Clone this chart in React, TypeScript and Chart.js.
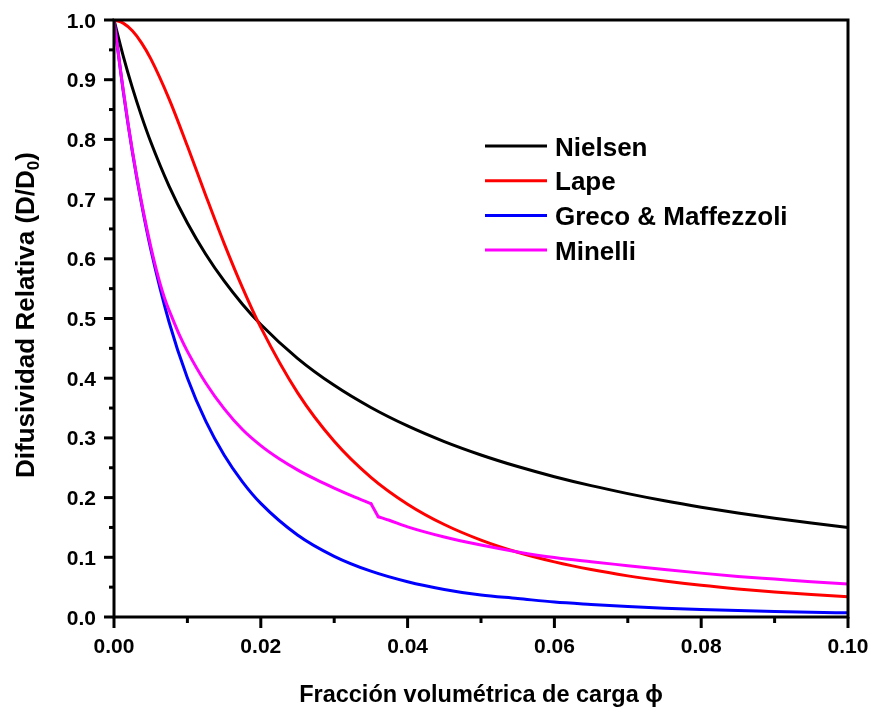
import React, { useEffect, useRef } from "react";
import { Chart, registerables } from "chart.js";

Chart.register(...registerables);

const phi = [0, 0.00125, 0.0025, 0.00375, 0.005, 0.0075, 0.01, 0.0125, 0.015, 0.0175, 0.02, 0.025, 0.03, 0.035, 0.04, 0.045, 0.05, 0.055, 0.06, 0.065, 0.07, 0.075, 0.08, 0.085, 0.09, 0.095, 0.1];

const nielsen = [1, 0.94, 0.8867, 0.839, 0.796, 0.7218, 0.66, 0.6077, 0.5629, 0.524, 0.49, 0.4333, 0.388, 0.3509, 0.32, 0.2938, 0.2714, 0.252, 0.235, 0.22, 0.2067, 0.1947, 0.184, 0.1743, 0.1655, 0.1574, 0.15];
const lape = [1, 0.9948, 0.9819, 0.9618, 0.9354, 0.868, 0.7888, 0.7062, 0.6259, 0.5517, 0.4851, 0.3759, 0.2944, 0.234, 0.189, 0.1549, 0.1288, 0.1084, 0.0923, 0.0794, 0.0689, 0.0603, 0.0531, 0.0471, 0.042, 0.0377, 0.034];
const greco = [1, 0.8812, 0.7795, 0.6921, 0.6166, 0.4941, 0.4005, 0.3281, 0.2714, 0.2264, 0.1903, 0.1374, 0.1017, 0.0768, 0.0591, 0.0462, 0.0367, 0.031, 0.025, 0.021, 0.0175, 0.0148, 0.0125, 0.0107, 0.0092, 0.008, 0.007];

const phiMinelli = [0, 0.001, 0.002, 0.003, 0.004, 0.005, 0.006, 0.007, 0.008, 0.009, 0.01, 0.0125, 0.015, 0.0175, 0.02, 0.0225, 0.025, 0.0275, 0.03, 0.0325, 0.035, 0.036, 0.0375, 0.04, 0.045, 0.05, 0.055, 0.06, 0.065, 0.07, 0.075, 0.08, 0.085, 0.09, 0.095, 0.1];
const minelli = [1, 0.905, 0.82, 0.745, 0.679, 0.621, 0.571, 0.53, 0.499, 0.47, 0.445, 0.392, 0.349, 0.314, 0.287, 0.265, 0.2465, 0.2305, 0.216, 0.2025, 0.19, 0.168, 0.162, 0.151, 0.134, 0.1205, 0.109, 0.0995, 0.0925, 0.086, 0.0795, 0.0735, 0.068, 0.0635, 0.059, 0.0553];
// the Minelli curve has a step between these two phi values
const minelliStepStart = 0.035;
const minelliStepEnd = 0.036;

const seriesNames = ["Nielsen", "Lape", "Greco & Maffezzoli", "Minelli"];
const seriesColors = ["#000000", "#ff0000", "#0000ff", "#ff00ff"];
const seriesOrder = [4, 2, 3, 1];

const xMajorTicks = [0, 0.02, 0.04, 0.06, 0.08, 0.1];
const xMinorTicks = [0.01, 0.03, 0.05, 0.07, 0.09];
const xTickLabels = ["0.00", "0.02", "0.04", "0.06", "0.08", "0.10"];
const yMajorTicks = [0, 0.1, 0.2, 0.3, 0.4, 0.5, 0.6, 0.7, 0.8, 0.9, 1.0];
const yMinorTicks = [0.05, 0.15, 0.25, 0.35, 0.45, 0.55, 0.65, 0.75, 0.85, 0.95];
const yTickLabels = ["0.0", "0.1", "0.2", "0.3", "0.4", "0.5", "0.6", "0.7", "0.8", "0.9", "1.0"];

const xTitle = "Fracción volumétrica de carga ϕ";
const yTitleMain = "Difusividad Relativa (D/D";
const yTitleSub = "0";
const yTitleEnd = ")";

const FONT = '"Liberation Sans", Arial, Helvetica, sans-serif';

const axesPlugin = {
  id: "customAxes",
  afterDatasetsDraw(chart: any) {
    const ctx = chart.ctx;
    const area = chart.chartArea;
    const xs = chart.scales.x;
    const ys = chart.scales.y;
    ctx.save();
    ctx.strokeStyle = "#000";
    ctx.fillStyle = "#000";
    ctx.lineWidth = 3;
    ctx.lineCap = "butt";
    ctx.strokeRect(area.left, area.top, area.right - area.left, area.bottom - area.top);
    xMajorTicks.forEach((v) => {
      const px = xs.getPixelForValue(v);
      ctx.beginPath();
      ctx.moveTo(px, area.bottom);
      ctx.lineTo(px, area.bottom + 11);
      ctx.stroke();
    });
    xMinorTicks.forEach((v) => {
      const px = xs.getPixelForValue(v);
      ctx.beginPath();
      ctx.moveTo(px, area.bottom);
      ctx.lineTo(px, area.bottom + 6);
      ctx.stroke();
    });
    yMajorTicks.forEach((v) => {
      const py = ys.getPixelForValue(v);
      ctx.beginPath();
      ctx.moveTo(area.left, py);
      ctx.lineTo(area.left - 10, py);
      ctx.stroke();
    });
    yMinorTicks.forEach((v) => {
      const py = ys.getPixelForValue(v);
      ctx.beginPath();
      ctx.moveTo(area.left, py);
      ctx.lineTo(area.left - 5, py);
      ctx.stroke();
    });
    ctx.font = `bold 21px ${FONT}`;
    ctx.textBaseline = "alphabetic";
    ctx.textAlign = "center";
    xMajorTicks.forEach((v, i) => {
      ctx.fillText(xTickLabels[i], xs.getPixelForValue(v), area.bottom + 36);
    });
    ctx.textAlign = "right";
    yMajorTicks.forEach((v, i) => {
      ctx.fillText(yTickLabels[i], area.left - 18, ys.getPixelForValue(v) + 7.5);
    });
    ctx.font = `bold 23.5px ${FONT}`;
    ctx.textAlign = "center";
    ctx.fillText(xTitle, (area.left + area.right) / 2, 702);
    ctx.save();
    ctx.translate(34, 315);
    ctx.rotate(-Math.PI / 2);
    ctx.textAlign = "left";
    const mainFont = `bold 26px ${FONT}`;
    const subFont = `bold 17px ${FONT}`;
    ctx.font = mainFont;
    const w1 = ctx.measureText(yTitleMain).width;
    const w3 = ctx.measureText(yTitleEnd).width;
    ctx.font = subFont;
    const w2 = ctx.measureText(yTitleSub).width;
    const total = w1 + w2 + w3;
    let cx = -total / 2;
    ctx.font = mainFont;
    ctx.fillText(yTitleMain, cx, 0);
    cx += w1;
    ctx.font = subFont;
    ctx.fillText(yTitleSub, cx, 5);
    cx += w2;
    ctx.font = mainFont;
    ctx.fillText(yTitleEnd, cx, 0);
    ctx.restore();
    ctx.font = `bold 26px ${FONT}`;
    ctx.textAlign = "left";
    seriesNames.forEach((name, i) => {
      const ly = 146 + i * 34.7;
      ctx.strokeStyle = seriesColors[i];
      ctx.lineWidth = 3;
      ctx.beginPath();
      ctx.moveTo(485, ly);
      ctx.lineTo(547, ly);
      ctx.stroke();
      ctx.fillStyle = "#000";
      ctx.fillText(name, 555, ly + 9.5);
    });
    ctx.restore();
  },
};

function points(xs: number[], ys: number[], lo: number, hi: number) {
  const out: { x: number; y: number }[] = [];
  xs.forEach((x, j) => {
    if (x >= lo - 1e-9 && x <= hi + 1e-9) out.push({ x, y: ys[j] });
  });
  return out;
}

export default function App() {
  const ref = useRef<HTMLCanvasElement | null>(null);
  useEffect(() => {
    if (!ref.current) return;
    const base = (label: string, color: string, order: number, data: any[], mode: "monotone" | "default") => ({
      label,
      data,
      borderColor: color,
      backgroundColor: color,
      borderWidth: 3,
      pointRadius: 0,
      fill: false,
      cubicInterpolationMode: mode,
      tension: mode === "monotone" ? 0.4 : 0,
      order,
      borderCapStyle: "round" as const,
      borderJoinStyle: "round" as const,
    });
    const datasets = [
      base(seriesNames[0], seriesColors[0], seriesOrder[0], points(phi, nielsen, 0, 1), "monotone"),
      base(seriesNames[1], seriesColors[1], seriesOrder[1], points(phi, lape, 0, 1), "monotone"),
      base(seriesNames[2], seriesColors[2], seriesOrder[2], points(phi, greco, 0, 1), "monotone"),
      base(seriesNames[3], seriesColors[3], seriesOrder[3], points(phiMinelli, minelli, 0, minelliStepStart), "monotone"),
      base(seriesNames[3], seriesColors[3], seriesOrder[3], points(phiMinelli, minelli, minelliStepStart, minelliStepEnd), "default"),
      base(seriesNames[3], seriesColors[3], seriesOrder[3], points(phiMinelli, minelli, minelliStepEnd, 1), "monotone"),
    ];
    const chart = new Chart(ref.current, {
      type: "line",
      data: { datasets },
      options: {
        animation: false,
        responsive: false,
        layout: { padding: { left: 114, right: 25, top: 20, bottom: 94 } },
        plugins: { legend: { display: false }, tooltip: { enabled: false } },
        scales: {
          x: { type: "linear", min: 0, max: 0.1, display: false },
          y: { type: "linear", min: 0, max: 1, display: false },
        },
      },
      plugins: [axesPlugin],
    });
    return () => chart.destroy();
  }, []);
  return (
    <div style={{ position: "absolute", left: 0, top: 0, width: 873, height: 711, background: "#fff" }}>
      <canvas ref={ref} width={873} height={711} style={{ display: "block" }} />
    </div>
  );
}
